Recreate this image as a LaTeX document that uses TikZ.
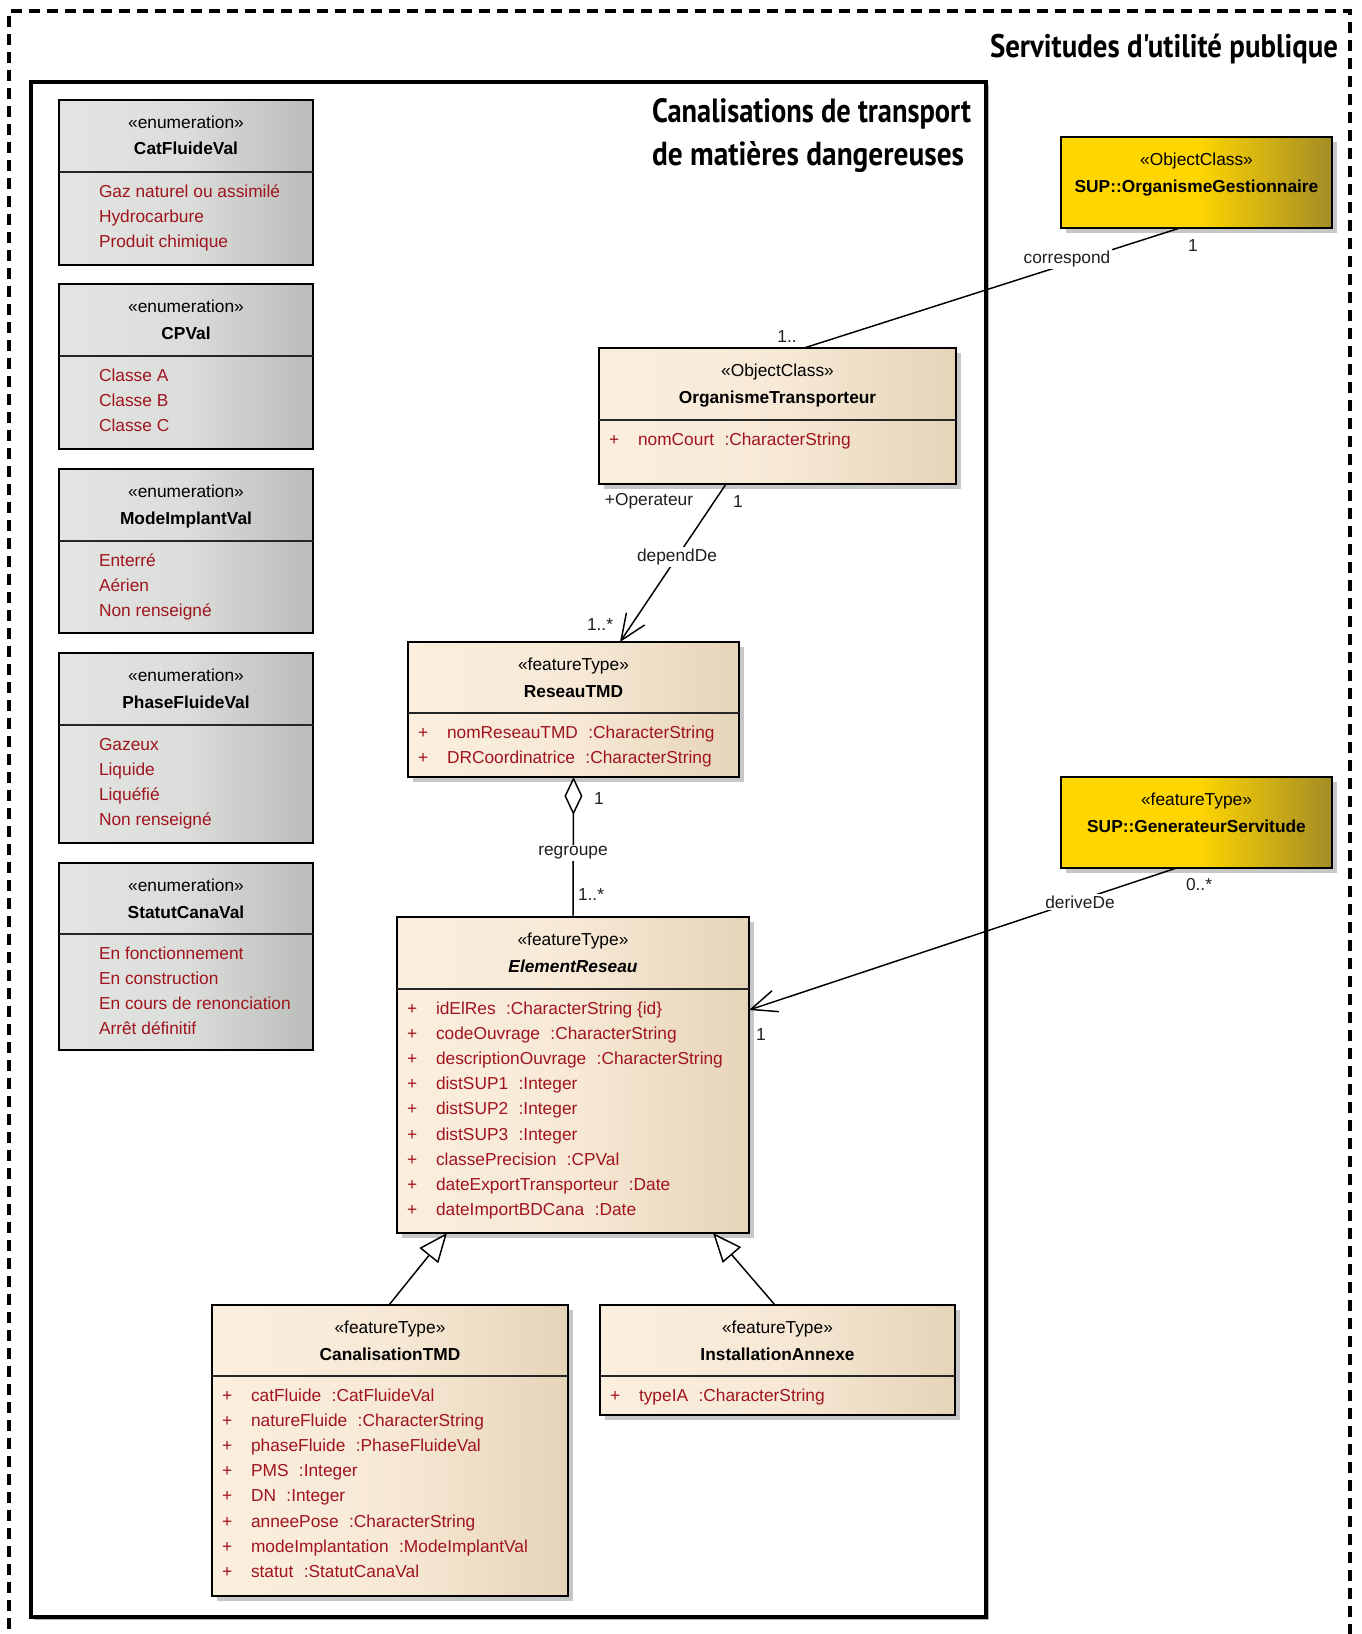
\documentclass[tikz,border=0pt]{standalone}
\usepackage{fontspec}
\usepackage{graphicx}
\setmainfont{Liberation Sans}
\newfontfamily\titlefont{PT Sans}
\usetikzlibrary{arrows.meta,shadows,fit,calc}
\definecolor{attrc}{RGB}{160,20,30}
\definecolor{beigeL}{RGB}{251,238,222}
\definecolor{beigeM}{RGB}{247,233,214}
\definecolor{beigeR}{RGB}{230,212,185}
\definecolor{grayL}{RGB}{227,229,226}
\definecolor{grayM}{RGB}{219,221,218}
\definecolor{grayR}{RGB}{186,188,185}
\definecolor{yelL}{RGB}{255,214,0}
\definecolor{yelR}{RGB}{163,140,38}
\newcommand{\tsep}{\hspace{0.6em}}
% style, id, x1, y1, x2, y2, stereotype, name
\newcommand{\clsbox}[8]{%
  \node[#1, fit={(#3,#4) (#5,#6)}] (#2) {};
  \node[stereo] (#2-s) at (#2.north |- 0,{#4+28.5}) {«#7»};
  \node[cname] (#2-n) at (#2.north |- 0,{#4+55}) {#8};
}
% id, divider y, items
\newcommand{\enumitems}[3]{%
  \draw[divider] (#1.west |- 0,#2) -- (#1.east |- 0,#2);
  \foreach \itm [count=\i] in {#3} {
    \node[item] (#1-\i) at (99,{#2+25+(\i-1)*25}) {\itm};
  }
}
% id, x1, divider y, attributes
\newcommand{\attrs}[4]{%
  \draw[divider] (#1.west |- 0,#3) -- (#1.east |- 0,#3);
  \foreach \attrtext [count=\i] in {#4} {
    \node[item] (#1-p\i) at ({#2+10},{#3+25+(\i-1)*25.2}) {+};
    \node[item] (#1-a\i) at ({#2+39},{#3+25+(\i-1)*25.2}) {\attrtext};
  }
}
\begin{document}
\begin{tikzpicture}[x=0.75pt,y=-0.75pt,
  box/.style={draw=black, line width=1.5pt, inner sep=0pt, outer sep=0pt, rectangle},
  shadowed/.style={drop shadow={shadow xshift=3.75pt, shadow yshift=-3.75pt, fill=black!22, opacity=1}},
  ftbox/.style={box, shadowed, left color=beigeL, right color=beigeR, middle color=beigeM},
  enbox/.style={box, left color=grayL, right color=grayR, middle color=grayM},
  ylbox/.style={box, shadowed, left color=yelL, right color=yelR, middle color=yelL},
  txt/.style={inner sep=0pt, outer sep=0pt, anchor=base, font=\fontsize{13}{15}\selectfont},
  stereo/.style={txt},
  cname/.style={txt, font=\fontsize{13}{15}\selectfont\bfseries},
  item/.style={txt, anchor=base west, text=attrc},
  divider/.style={line width=1.3pt, draw=black!85},
  conn/.style={line width=1.1pt, draw=black},
  lab/.style={txt, anchor=center, fill=white, inner sep=1.5pt, text=black!88},
  mult/.style={txt, anchor=center, text=black!88},
  ttl/.style={inner sep=0pt, outer sep=0pt},
  openarrow/.style={-{Straight Barb[length=19.5pt,width=16.5pt]}},
  genarrow/.style={-{Triangle[fill=white,length=21.75pt,width=18pt]}},
]
\useasboundingbox (0,0) rectangle (1361,1634);
\clip (0,0) rectangle (1361,1634);

% outer package (dashed)
\node[draw=black, line width=2.3pt, dash pattern=on 8.25pt off 5.25pt, inner sep=0pt,
      fit={(9,11) (1350,1680)}] (sup) {};
\node[ttl, anchor=base east] (t-sup) at (1338,58)
  {\resizebox{261pt}{17.6pt}{\titlefont\bfseries Servitudes d'utilité publique}};

% inner package
\node[draw=black, fill=white, line width=2.3pt, inner sep=0pt,
      drop shadow={shadow xshift=2.2pt, shadow yshift=-2.2pt, fill=black!30, opacity=1},
      fit={(31,82) (986,1617)}] (tmd) {};
\node[ttl, anchor=base west] (t-tmd1) at (652,123)
  {\resizebox{239.25pt}{18pt}{\titlefont\bfseries Canalisations de transport}};
\node[ttl, anchor=base west] (t-tmd2) at (652,166)
  {\resizebox{234pt}{18pt}{\titlefont\bfseries de matières dangereuses}};

% enumerations
\clsbox{enbox}{cat}{59}{100}{313}{265}{enumeration}{CatFluideVal}
\enumitems{cat}{172}{Gaz naturel ou assimilé,Hydrocarbure,Produit chimique}
\clsbox{enbox}{cp}{59}{284}{313}{449}{enumeration}{CPVal}
\enumitems{cp}{356}{Classe A,Classe B,Classe C}
\clsbox{enbox}{mi}{59}{469}{313}{633}{enumeration}{ModeImplantVal}
\enumitems{mi}{541}{Enterré,Aérien,Non renseigné}
\clsbox{enbox}{pf}{59}{653}{313}{843}{enumeration}{PhaseFluideVal}
\enumitems{pf}{725}{Gazeux,Liquide,Liquéfié,Non renseigné}
\clsbox{enbox}{sc}{59}{863}{313}{1050}{enumeration}{StatutCanaVal}
\enumitems{sc}{934}{En fonctionnement,En construction,En cours de renonciation,Arrêt définitif}

% external classes
\clsbox{ylbox}{og}{1061}{137}{1332}{228}{ObjectClass}{SUP::OrganismeGestionnaire}
\clsbox{ylbox}{gs}{1061}{777}{1332}{868}{featureType}{SUP::GenerateurServitude}

% feature classes
\clsbox{ftbox}{ot}{599}{348}{956}{484}{ObjectClass}{OrganismeTransporteur}
\attrs{ot}{599}{420}{nomCourt\tsep:CharacterString}
\clsbox{ftbox}{rt}{408}{642}{739}{777}{featureType}{ReseauTMD}
\attrs{rt}{408}{713}{nomReseauTMD\tsep:CharacterString,DRCoordinatrice\tsep:CharacterString}
\clsbox{ftbox}{er}{397}{917}{749}{1233}{featureType}{\textit{ElementReseau}}
\attrs{er}{397}{989}{idElRes\tsep:CharacterString \{id\},codeOuvrage\tsep:CharacterString,descriptionOuvrage\tsep:CharacterString,distSUP1\tsep:Integer,distSUP2\tsep:Integer,distSUP3\tsep:Integer,classePrecision\tsep:CPVal,dateExportTransporteur\tsep:Date,dateImportBDCana\tsep:Date}
\clsbox{ftbox}{ct}{212}{1305}{568}{1596}{featureType}{CanalisationTMD}
\attrs{ct}{212}{1376}{catFluide\tsep:CatFluideVal,natureFluide\tsep:CharacterString,phaseFluide\tsep:PhaseFluideVal,PMS\tsep:Integer,DN\tsep:Integer,anneePose\tsep:CharacterString,modeImplantation\tsep:ModeImplantVal,statut\tsep:StatutCanaVal}
\clsbox{ftbox}{ia}{600}{1305}{955}{1415}{featureType}{InstallationAnnexe}
\attrs{ia}{600}{1376}{typeIA\tsep:CharacterString}

% correspond
\draw[conn] ($(og.south)+(-16.5,0)$) -- ($(ot.north)+(26.5,0)$);
\node[lab] (l-corr) at (1067,259) {correspond};
\node[mult] (m-og) at (1193,246) {1};
\node[mult] (m-ot) at (787,337) {1..};

% dependDe
\draw[conn, openarrow] ($(ot.south)+(-51.5,0)$) -- ($(rt.north)+(46.5,0)$);
\node[lab] (l-dep) at (677,557) {dependDe};
\node[mult] (m-op) at (649,501) {+Operateur};
\node[mult] (m-ot2) at (738,502) {1};
\node[mult] (m-rt) at (600,625) {1..*};

% regroupe
\draw[conn, {Diamond[fill=white,length=28.5pt,width=13.5pt]}-] (rt.south) -- (er.north);
\node[lab] (l-reg) at (573,853) {regroupe};
\node[mult] (m-rt2) at (599,799) {1};
\node[mult] (m-er) at (591,895) {1..*};

% deriveDe
\draw[conn, openarrow] ($(gs.south)+(-20,0)$) -- ($(er.east)+(0,-65)$);
\node[lab] (l-der) at (1080,902) {deriveDe};
\node[mult] (m-gs) at (1199,885) {0..*};
\node[mult] (m-er2) at (761,1035) {1};

% generalizations
\draw[conn, genarrow] ($(ct.north)+(-1,0)$) -- ($(er.south)+(-126,0)$);
\draw[conn, genarrow] ($(ia.north)+(-2.5,0)$) -- ($(er.south)+(140,0)$);
\end{tikzpicture}
\end{document}
